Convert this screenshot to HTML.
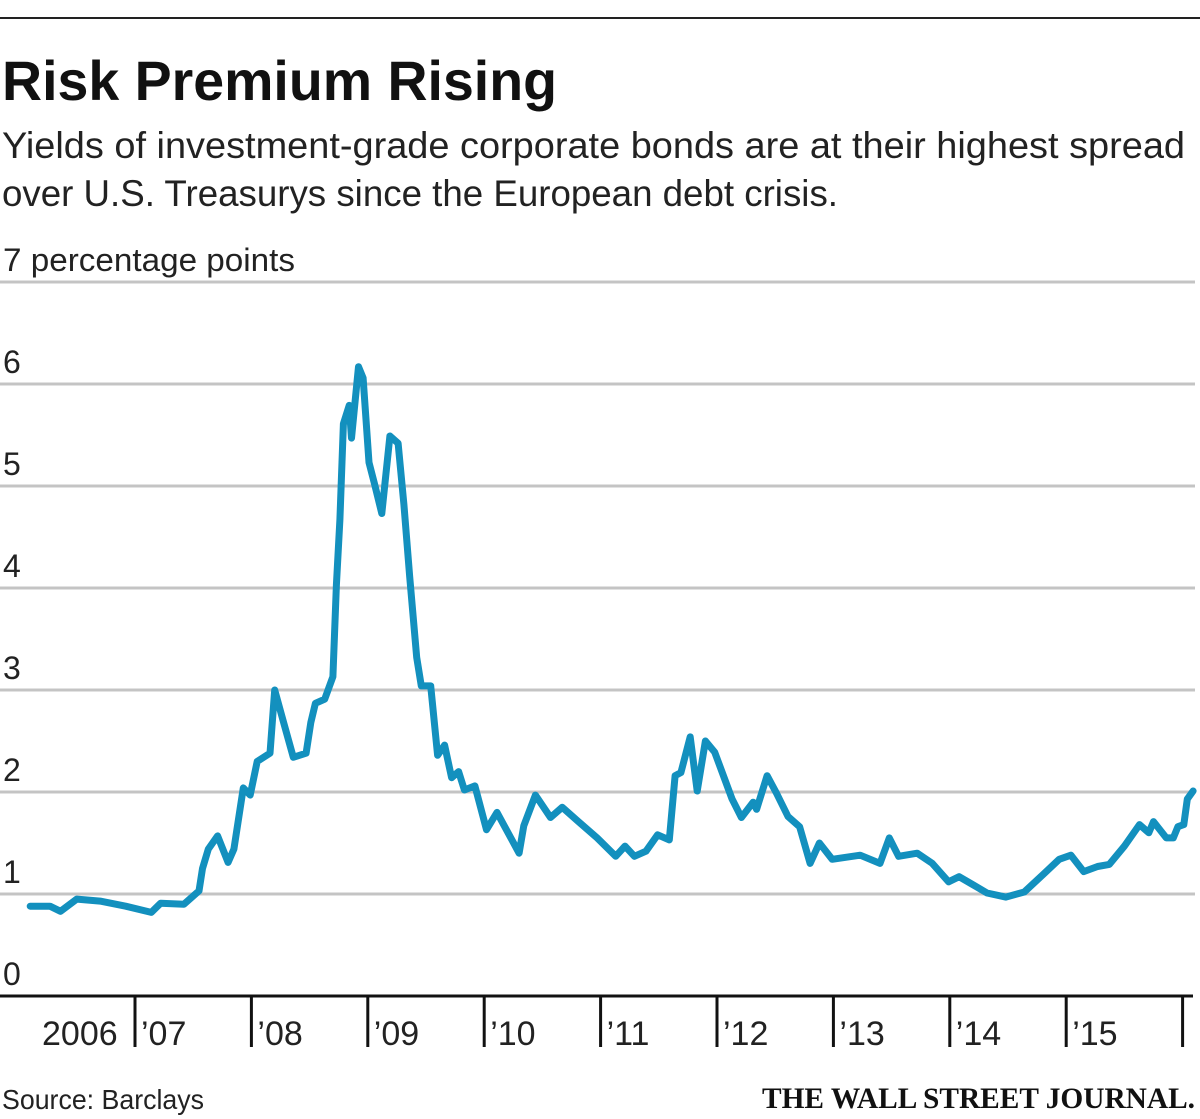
<!DOCTYPE html>
<html><head><meta charset="utf-8"><style>
html,body{margin:0;padding:0;background:#fff;width:1200px;height:1119px;overflow:hidden}
svg{display:block;font-family:"Liberation Sans",sans-serif}
</style></head><body>
<svg id="chart" width="1200" height="1119" viewBox="0 0 1200 1119">
<line x1="0" y1="18" x2="1200" y2="18" stroke="#222" stroke-width="2"/>
<text x="2" y="100" font-size="56" font-weight="bold" fill="#111" textLength="555" lengthAdjust="spacingAndGlyphs">Risk Premium Rising</text>
<text x="2" y="158" font-size="37" fill="#222" textLength="1183" lengthAdjust="spacingAndGlyphs">Yields of investment-grade corporate bonds are at their highest spread</text>
<text x="2" y="206" font-size="37" fill="#222" textLength="836" lengthAdjust="spacingAndGlyphs">over U.S. Treasurys since the European debt crisis.</text>
<g id="grid"></g>
<g id="xaxis"></g>
<path id="series" fill="none" stroke="#1390be" stroke-width="7" stroke-linejoin="round" stroke-linecap="round"/>
<text x="2" y="1109" font-size="28" fill="#222" textLength="202" lengthAdjust="spacingAndGlyphs">Source: Barclays</text>
<text x="762" y="1108" font-size="30" font-weight="bold" fill="#111" font-family="Liberation Serif, serif" textLength="433" lengthAdjust="spacingAndGlyphs">THE WALL STREET JOURNAL.</text>
</svg>
<script>
const yTicks = [0,1,2,3,4,5,6,7];
const yTickLabels = ["0","1","2","3","4","5","6","7 percentage points"];
const xYears = [2006,2007,2008,2009,2010,2011,2012,2013,2014,2015];
const xLabels = ["2006","\u201907","\u201908","\u201909","\u201910","\u201911","\u201912","\u201913","\u201914","\u201915"];
const dates = [2006.10,2006.27,2006.36,2006.50,2006.70,2006.92,2007.14,2007.22,2007.42,2007.55,2007.58,2007.63,2007.71,2007.80,2007.85,2007.93,2007.99,2008.05,2008.16,2008.20,2008.27,2008.36,2008.47,2008.51,2008.55,2008.63,2008.70,2008.73,2008.76,2008.79,2008.84,2008.86,2008.92,2008.96,2009.01,2009.06,2009.12,2009.19,2009.26,2009.31,2009.36,2009.42,2009.46,2009.54,2009.60,2009.66,2009.72,2009.78,2009.83,2009.92,2010.02,2010.11,2010.30,2010.34,2010.44,2010.57,2010.67,2010.80,2010.97,2011.13,2011.21,2011.29,2011.39,2011.49,2011.59,2011.64,2011.69,2011.77,2011.83,2011.90,2011.98,2012.13,2012.21,2012.31,2012.34,2012.43,2012.51,2012.61,2012.71,2012.80,2012.88,2012.99,2013.23,2013.40,2013.48,2013.56,2013.72,2013.85,2013.99,2014.08,2014.20,2014.32,2014.48,2014.64,2014.81,2014.94,2015.04,2015.15,2015.27,2015.37,2015.50,2015.63,2015.71,2015.75,2015.86,2015.92,2015.96,2016.01,2016.04,2016.09];
const spreads = [0.88,0.88,0.83,0.95,0.93,0.88,0.82,0.91,0.90,1.03,1.25,1.44,1.57,1.31,1.44,2.04,1.97,2.30,2.38,3.00,2.71,2.34,2.38,2.68,2.87,2.91,3.13,4.03,4.67,5.61,5.79,5.47,6.17,6.06,5.23,5.01,4.73,5.49,5.42,4.82,4.11,3.32,3.04,3.04,2.36,2.46,2.14,2.20,2.02,2.06,1.63,1.80,1.40,1.67,1.97,1.75,1.85,1.72,1.55,1.37,1.47,1.37,1.42,1.58,1.53,2.16,2.19,2.54,2.01,2.50,2.39,1.93,1.75,1.90,1.83,2.16,1.99,1.76,1.66,1.30,1.50,1.34,1.38,1.30,1.55,1.37,1.40,1.30,1.12,1.17,1.09,1.01,0.97,1.02,1.20,1.34,1.38,1.22,1.27,1.29,1.47,1.68,1.60,1.71,1.55,1.55,1.66,1.68,1.93,2.01];

const NS = "http://www.w3.org/2000/svg";
function yScale(v){ return 996 - v * 102; }
function xScale(t){ return 18.6 + (t - 2006) * 116.4; }
function mk(tag, attrs, parent){ const e = document.createElementNS(NS, tag); for (const k in attrs) e.setAttribute(k, attrs[k]); parent.appendChild(e); return e; }

const grid = document.getElementById('grid');
yTicks.forEach((v, i) => {
  if (v > 0) {
    const gl = mk('line', {x1:0, y1:yScale(v), x2:1195, y2:yScale(v), stroke:'#c4c4c4', 'stroke-width':3}, grid);
    
    
  }
  const t = mk('text', {x:3, y:yScale(v) - 11, 'font-size':32, fill:'#222'}, grid);
  t.textContent = yTickLabels[i];
  if (v === 7) { t.setAttribute('textLength', 292); t.setAttribute('lengthAdjust', 'spacingAndGlyphs'); }
  
  
});

const xa = document.getElementById('xaxis');
const ax = mk('line', {x1:0, y1:996, x2:1193, y2:996, stroke:'#111', 'stroke-width':3}, xa);


xYears.forEach((yr, i) => {
  const tx = xScale(yr + 1);
  const tk = mk('line', {x1:tx, y1:996, x2:tx, y2:1047, stroke:'#111', 'stroke-width':3}, xa);
  
  
  const lx = i === 0 ? 42 : xScale(yr) + 6;
  const lb = mk('text', {x:lx, y:1045, 'font-size':34, fill:'#222'}, xa);
  lb.textContent = xLabels[i];
  
  
});

let d = '';
dates.forEach((t, i) => { d += (i ? 'L' : 'M') + xScale(t).toFixed(1) + ',' + yScale(spreads[i]).toFixed(1); });
document.getElementById('series').setAttribute('d', d);
</script>
</body></html>
